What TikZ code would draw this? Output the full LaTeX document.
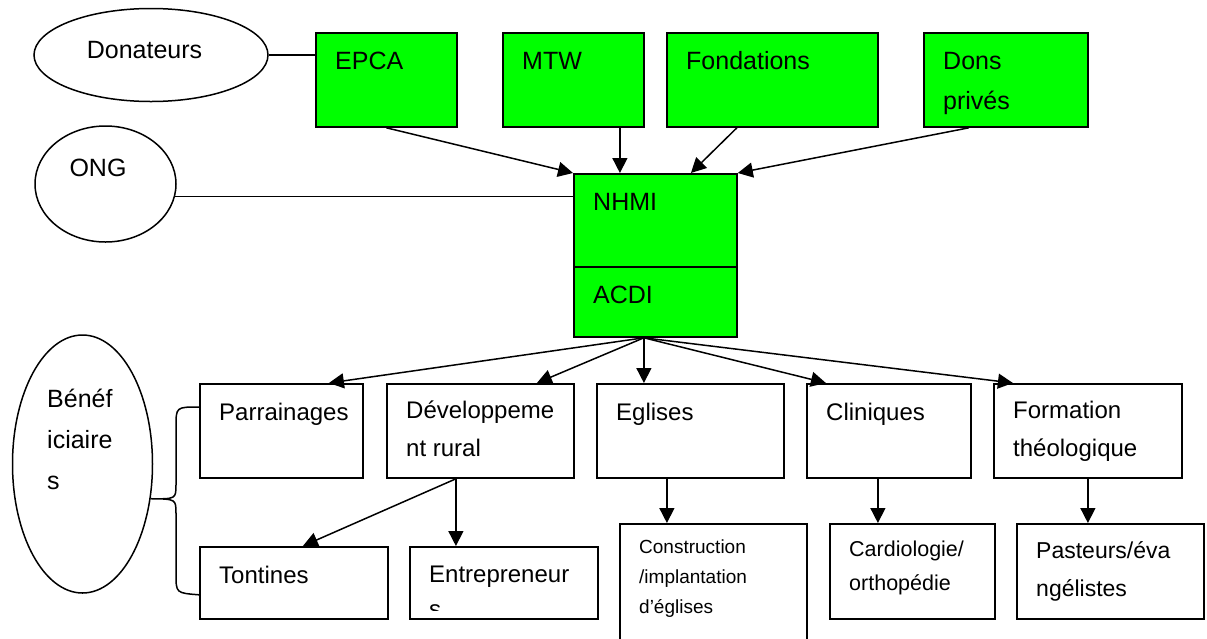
\documentclass[tikz,border=0pt]{standalone}
\usepackage{fontspec}
\setmainfont{Liberation Sans}
\usetikzlibrary{shapes.geometric,arrows.meta}
\definecolor{fundgreen}{HTML}{00FF00}

\tikzset{
  box/.style={draw, line width=1.8pt, rectangle, anchor=north west, inner sep=0pt},
  fund/.style={box, fill=fundgreen},
  bubble/.style={draw, line width=1.5pt, ellipse, inner sep=0pt},
  txt/.style={rectangle, draw=none, fill=none, minimum width=0pt, minimum height=0pt,
    anchor=north west, inner sep=0pt, align=left,
    font=\fontsize{24}{40}\selectfont, execute at begin node=\strut},
  lbl/.style={txt, xshift=20pt, yshift=-9pt},
  toplbl/.style={lbl, font=\fontsize{25}{40}\selectfont},
  link/.style={line width=1.5pt},
  arr/.style={link, -{Triangle[length=15pt,width=15pt]}}
}

\begin{document}
\begin{tikzpicture}[x=1pt, y=-1pt]
  \useasboundingbox (0,0) rectangle (1207,638);

  % Left ellipses
  \node[bubble, minimum width=234pt, minimum height=93pt,
    label={[txt, anchor=center, xshift=-6.5pt, yshift=5pt, font=\fontsize{25}{40}\selectfont]center:Donateurs}] (donat) at (151,55) {};
  \node[bubble, minimum width=141pt, minimum height=116pt,
    label={[txt, anchor=center, xshift=-7.5pt, yshift=15.5pt, font=\fontsize{25}{40}\selectfont]center:ONG}] (ong) at (105.5,184) {};
  \node[bubble, minimum width=140pt, minimum height=258pt] (benef) at (82.5,464) {};
  \node[txt, font=\fontsize{25}{41}\selectfont] (beneftext) at (47,379) {\strut Bénéf\\iciaire\\s};

  % Donors
  \node[fund, minimum width=141pt, minimum height=94pt, label={[toplbl]north west:EPCA}] (epca) at (315,32) {};
  \node[fund, minimum width=141pt, minimum height=94pt, label={[toplbl]north west:MTW}] (mtw) at (502,32) {};
  \node[fund, minimum width=211pt, minimum height=94pt, label={[toplbl]north west:Fondations}] (fond) at (666,32) {};
  \node[fund, minimum width=164pt, minimum height=94pt, label={[toplbl]north west:{\strut Dons\\privés}}] (dons) at (923,32) {};

  % Central agency
  \node[fund, minimum width=163pt, minimum height=93pt, label={[toplbl]north west:NHMI}] (nhmi) at (573,173) {};
  \node[fund, minimum width=163pt, minimum height=70pt, label={[toplbl]north west:ACDI}] (acdi) at (573,266) {};

  % Programmes
  \node[box, minimum width=163pt, minimum height=94pt, label={[lbl]north west:Parrainages}] (parr) at (199,383) {};
  \node[box, minimum width=187pt, minimum height=94pt, label={[lbl, font=\fontsize{24}{38}\selectfont]north west:{\strut Développeme\\nt rural}}] (dev) at (386,383) {};
  \node[box, minimum width=187pt, minimum height=94pt, label={[lbl]north west:Eglises}] (egl) at (596,383) {};
  \node[box, minimum width=164pt, minimum height=94pt, label={[lbl]north west:Cliniques}] (clin) at (806,383) {};
  \node[box, minimum width=188pt, minimum height=94pt, label={[lbl, font=\fontsize{24}{38}\selectfont]north west:{\strut Formation\\théologique}}] (form) at (993,383) {};

  % Sub-programmes
  \node[box, minimum width=188pt, minimum height=72pt, label={[lbl]north west:Tontines}] (tont) at (199,546) {};
  \node[box, minimum width=188pt, minimum height=72pt] (entr) at (409,546) {};
  \begin{scope}
    \clip (entr.north west) rectangle ([yshift=9pt]entr.south east);
    \node[txt, xshift=20pt, yshift=-12pt, font=\fontsize{24}{35}\selectfont] (entrtext) at (entr.north west) {\strut Entrepreneur\\s};
  \end{scope}
  \node[box, minimum width=187pt, minimum height=130pt,
    label={[lbl, font=\fontsize{19}{30}\selectfont]north west:{\strut Construction\\/implantation\\d’églises}}] (constr) at (619,523) {};
  \node[box, minimum width=165pt, minimum height=95pt,
    label={[lbl, font=\fontsize{21.5}{34}\selectfont]north west:{\strut Cardiologie/\\orthopédie}}] (card) at (829,523) {};
  \node[box, minimum width=187pt, minimum height=95pt,
    label={[lbl, font=\fontsize{23}{38}\selectfont]north west:{\strut Pasteurs/éva\\ngélistes}}] (past) at (1016,523) {};

  % Plain links
  \draw[link] (donat.east) -- (donat.east -| epca.west);
  \draw[link] (ong.-10) -- (ong.-10 -| nhmi.west);
  \draw[link] ([yshift=-24pt]parr.north west) .. controls (176,407) .. (176,427) -- (176,484)
    .. controls (176,499) .. (benef.-27) .. controls (176,499) .. (176,514) -- (176,574)
    .. controls (176,593) .. ([yshift=25pt]tont.south west);

  % Funding arrows
  \draw[arr] (epca.south) -- (nhmi.north west);
  \draw[arr] ([xshift=46.5pt]mtw.south) -- ([xshift=-35.5pt]nhmi.north);
  \draw[arr] ([xshift=-35.5pt]fond.south) -- ([xshift=35.5pt]nhmi.north);
  \draw[arr] ([xshift=-37pt]dons.south) -- (nhmi.north east);

  % Programme arrows
  \coordinate (hub) at ([xshift=-11.5pt]acdi.south);
  \draw[arr] (hub) -- ([xshift=47.5pt]parr.north);
  \draw[arr] (hub) -- ([xshift=56.5pt]dev.north);
  \draw[arr] (hub) -- ([xshift=-46.5pt]egl.north);
  \draw[arr] (hub) -- ([xshift=-63pt]clin.north);
  \draw[arr] (hub) -- ([xshift=-75pt]form.north);

  % Sub-programme arrows
  \draw[arr] ([xshift=-24.5pt]dev.south) -- ([xshift=9pt]tont.north);
  \draw[arr] ([xshift=-24.5pt]dev.south) -- ([xshift=-48pt]entr.north);
  \draw[arr] ([xshift=-23.5pt]egl.south) -- ([xshift=-46.5pt]constr.north);
  \draw[arr] ([xshift=-11pt]clin.south) -- ([xshift=-34.5pt]card.north);
  \draw[arr] (form.south) -- ([xshift=-22.5pt]past.north);
\end{tikzpicture}
\end{document}
